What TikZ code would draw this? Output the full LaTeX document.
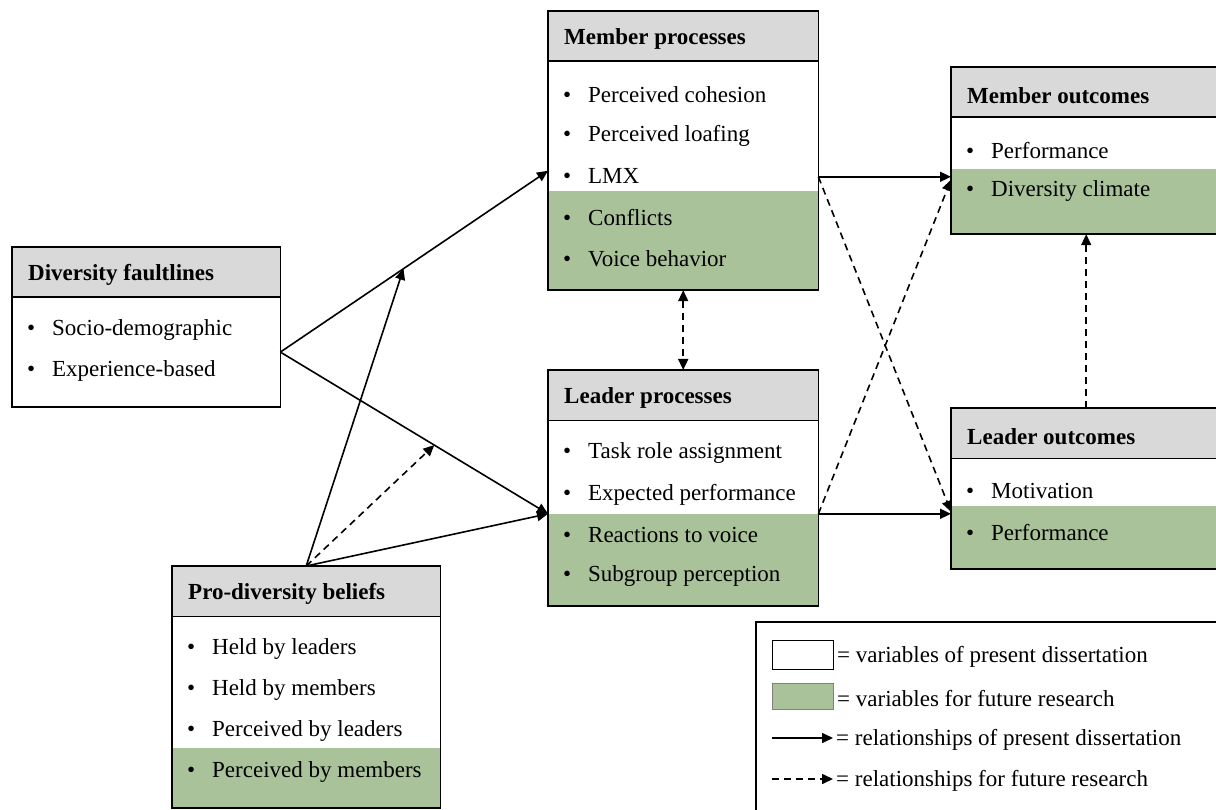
\documentclass[tikz,border=0pt]{standalone}
\usepackage{fontspec}
\setmainfont{Liberation Serif}
\usetikzlibrary{positioning,calc,arrows.meta}
\definecolor{headGray}{RGB}{217,217,217}
\definecolor{futGreen}{RGB}{169,194,153}
\tikzset{
    part/.style={
        fill=#1,
        inner sep=0pt,
        anchor=north west
    },
    frame/.style={draw, line width=1.8pt},
    headtxt/.style={anchor=west, font=\fontsize{23pt}{27pt}\selectfont\bfseries, inner sep=0pt, xshift=16pt, yshift=-3pt},
    item/.style={anchor=west, inner sep=0pt, xshift=15pt},
    legtxt/.style={anchor=west, inner sep=0pt, yshift=-2pt},
    rel/.style={
        -{Triangle[length=11pt,width=10pt]},
        line width=1.6pt
    },
    fut/.style={
        rel,
        dash pattern=on 7pt off 5pt
    }
}

\begin{document}
\begin{tikzpicture}[x=1pt, y=-1pt, font=\fontsize{23pt}{27pt}\selectfont]
    \useasboundingbox (0,0) rectangle (1216,810);

    % 1. Cac hop bien
    \foreach \n/\x/\y/\w/\hw/\hg/\t in {
        df/12/247/268/109/0/Diversity faultlines,
        mp/548/11/270/129/99/Member processes,
        lp/548/370/270/93/92/Leader processes,
        mo/951/67/270/51/65/Member outcomes,
        lo/951/408/270/47/63/Leader outcomes,
        pb/172/566/268/131/60/Pro-diversity beliefs}
    {
        \node[part=headGray, minimum width=\w pt, minimum height=50pt] (\n-h) at (\x,\y) {};
        \node[part=white, minimum width=\w pt, minimum height=\hw pt] (\n-w) at (\n-h.south west) {};
        \node[part=futGreen, minimum width=\w pt, minimum height=\hg pt] (\n-g) at (\n-w.south west) {};
        \draw[frame] (\n-h.north west) rectangle (\n-g.south east);
        \draw[frame] (\n-h.south west) -- (\n-h.south east);
        \node[headtxt] at (\n-h.west) {\t};
    }

    % 2. Cac dong trong hop
    \foreach \t [count=\i] in {Socio-demographic, Experience-based}
        \node[item] at ($(df-h.south west)+(0,{33+41*(\i-1)})$) {\makebox[25pt][l]{\textbullet}\t};
    \foreach \t [count=\i] in {Perceived cohesion, Perceived loafing, LMX, Conflicts, Voice behavior}
        \node[item] at ($(mp-h.south west)+(0,{33+41*(\i-1)})$) {\makebox[25pt][l]{\textbullet}\t};
    \foreach \t [count=\i] in {Task role assignment, Expected performance, Reactions to voice, Subgroup perception}
        \node[item] at ($(lp-h.south west)+(0,{33+41*(\i-1)})$) {\makebox[25pt][l]{\textbullet}\t};
    \foreach \t [count=\i] in {Performance, Diversity climate}
        \node[item] at ($(mo-h.south west)+(0,{33+41*(\i-1)})$) {\makebox[25pt][l]{\textbullet}\t};
    \foreach \t [count=\i] in {Motivation, Performance}
        \node[item] at ($(lo-h.south west)+(0,{33+41*(\i-1)})$) {\makebox[25pt][l]{\textbullet}\t};
    \foreach \t [count=\i] in {Held by leaders, Held by members, Perceived by leaders, Perceived by members}
        \node[item] at ($(pb-h.south west)+(0,{33+41*(\i-1)})$) {\makebox[25pt][l]{\textbullet}\t};

    % 3. Mui ten ben trai
    \draw[rel] (df-w.east) -- coordinate[pos=0.46] (m1) ([yshift=20pt]mp-w.south west);
    \draw[rel] (df-w.east) -- coordinate[pos=0.575] (m2) (lp-w.south west);
    \draw[rel] (pb-h.north) -- (m1);
    \draw[fut] (pb-h.north) -- (m2);
    \draw[rel] (pb-h.north) -- (lp-w.south west);

    % 4. Mui ten ben phai
    \draw[rel] ([yshift=14pt]mp-w.south east) -- ([yshift=-8pt]mo-w.south west);
    \draw[fut] ([yshift=14pt]mp-w.south east) -- ([yshift=-6pt]lo-w.south west);
    \draw[fut] (lp-w.south east) -- ([yshift=-11pt]mo-w.south west);
    \draw[rel] (lp-w.south east) -- ([yshift=-8pt]lo-w.south west);
    \draw[fut, {Triangle[length=11pt,width=10pt]}-{Triangle[length=11pt,width=10pt]}] (mp-g.south) -- (lp-h.north);
    \draw[fut] (lo-h.north) -- (mo-g.south);

    % 5. Chu thich
    \draw[frame] (756,622) rectangle (1222,815);
    \node[part=white, draw, line width=1pt, minimum width=61pt, minimum height=29pt] (lg-w) at (772,640) {};
    \node[part=futGreen, draw=gray, line width=1pt, minimum width=61pt, minimum height=26pt] (lg-g) at (772,683) {};
    \node[legtxt, right=3pt of lg-w] {= variables of present dissertation};
    \node[legtxt, right=3pt of lg-g] {= variables for future research};
    \coordinate (la1) at (772,738);
    \coordinate (la2) at (833,738);
    \coordinate (lb1) at (772,779);
    \coordinate (lb2) at (833,779);
    \draw[rel] (la1) -- (la2);
    \draw[fut] (lb1) -- (lb2);
    \node[legtxt, right=3pt of la2] {= relationships of present dissertation};
    \node[legtxt, right=3pt of lb2] {= relationships for future research};
\end{tikzpicture}
\end{document}
